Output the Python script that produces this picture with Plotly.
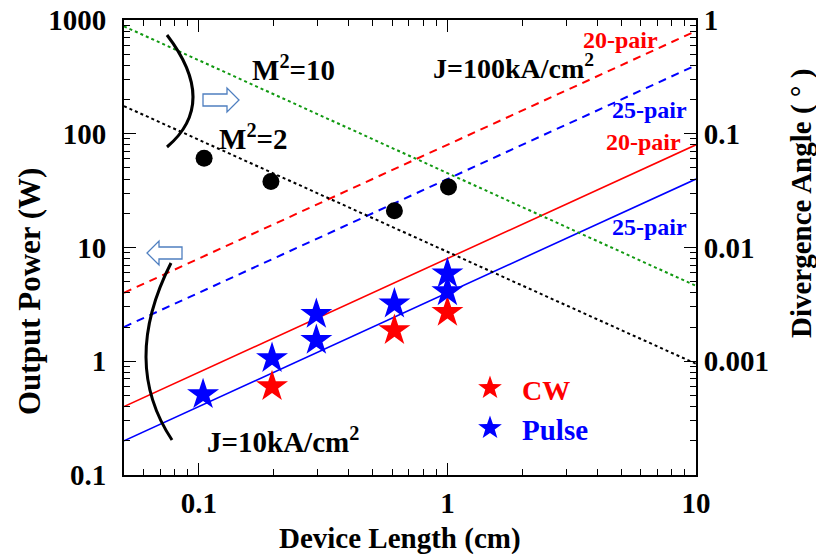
import math
import plotly.graph_objects as go

# ---------------- data ----------------
len_ends = [0.05, 10]                      # device length (cm) for model lines
pow_20pair_J10 = [0.4, 80]                 # red solid
pow_25pair_J10 = [0.2, 40]                 # blue solid
pow_20pair_J100 = [4.0, 800]               # red dashed
pow_25pair_J100 = [2.0, 400]               # blue dashed
div_M2_2 = [0.175, 0.00095]                # black dotted (right axis)
div_M2_10 = [0.88, 0.0046]                 # green dotted (right axis)

meas_div_len = [0.105, 0.195, 0.612, 1.01]
meas_div = [0.061, 0.038, 0.021, 0.034]

pulse_len = [0.104, 0.197, 0.297, 0.297, 0.612, 1.0, 1.0]
pulse_pow = [0.51, 1.06, 2.59, 1.53, 3.2, 5.9, 4.1]
cw_len = [0.197, 0.612, 1.0]
cw_pow = [0.60, 1.87, 2.7]

x_tick_vals = [0.1, 1, 10]
x_tick_text = ["0.1", "1", "10"]
y_tick_vals = [0.1, 1, 10, 100, 1000]
y_tick_text = ["0.1", "1", "10", "100", "1000"]
y2_tick_vals = [0.001, 0.01, 0.1, 1]
y2_tick_text = ["0.001", "0.01", "0.1", "1"]

# ---------------- style ----------------
FONT = "Liberation Serif"
RED = "#FF0000"
BLUE = "#0000FF"
GREEN = "#119911"
ARROW = "#4F7FC0"
W, H = 816, 554
L, R, T, B = 124, 696, 20, 475


def pp(xp, yp):
    return (xp - L) / (R - L), (B - yp) / (B - T)


def minor_vals(decades):
    return [m * 10.0 ** d for d in decades for m in range(2, 10)]


fig = go.Figure()

def line(x, y, color, dash, width, yaxis="y"):
    fig.add_trace(go.Scatter(x=x, y=y, mode="lines", yaxis=yaxis, showlegend=False,
                             line=dict(color=color, dash=dash, width=width), hoverinfo="skip"))

line(len_ends, div_M2_10, GREEN, "3px,3px", 2, "y2")
line(len_ends, div_M2_2, "black", "3px,3px", 2, "y2")
line(len_ends, pow_20pair_J100, RED, "8px,6px", 2)
line(len_ends, pow_25pair_J100, BLUE, "8px,6px", 2)
line(len_ends, pow_20pair_J10, RED, "solid", 1.6)
line(len_ends, pow_25pair_J10, BLUE, "solid", 1.6)

fig.add_trace(go.Scatter(x=meas_div_len, y=meas_div, yaxis="y2", mode="markers", showlegend=False,
                         marker=dict(symbol="circle", size=17, color="black")))
fig.add_trace(go.Scatter(x=cw_len, y=cw_pow, mode="markers", name="CW", showlegend=False,
                         marker=dict(symbol="star", size=24, color=RED, line=dict(width=0))))
fig.add_trace(go.Scatter(x=pulse_len, y=pulse_pow, mode="markers", name="Pulse", showlegend=False,
                         marker=dict(symbol="star", size=24, color=BLUE, line=dict(width=0))))

# ---------------- shapes ----------------
shapes = []

def path_from(points, close=True):
    s = ""
    for i, (a, b) in enumerate(points):
        x, y = pp(a, b)
        s += ("M " if i == 0 else " L ") + f"{x:.5f},{y:.5f}"
    return s + (" Z" if close else "")

def quad(p0, pm, p1):
    mx, my = (p0[0] + p1[0]) / 2, (p0[1] + p1[1]) / 2
    c = (2 * pm[0] - mx, 2 * pm[1] - my)
    a0, a1, a2 = pp(*p0), pp(*c), pp(*p1)
    return f"M {a0[0]:.5f},{a0[1]:.5f} Q {a1[0]:.5f},{a1[1]:.5f} {a2[0]:.5f},{a2[1]:.5f}"

# brackets
shapes.append(dict(type="path", xref="paper", yref="paper", path=quad((167, 35), (193, 97), (167, 147)),
                   line=dict(color="black", width=3)))
shapes.append(dict(type="path", xref="paper", yref="paper", path=quad((171, 263), (146, 357), (172, 440)),
                   line=dict(color="black", width=3)))
# hollow arrows
shapes.append(dict(type="path", xref="paper", yref="paper",
                   path=path_from([(203, 94), (227, 94), (227, 88), (239, 100), (227, 112), (227, 106), (203, 106)]),
                   line=dict(color=ARROW, width=1.3), fillcolor="white"))
shapes.append(dict(type="path", xref="paper", yref="paper",
                   path=path_from([(182, 247), (159, 247), (159, 241), (147, 253), (159, 265), (159, 259), (182, 259)]),
                   line=dict(color=ARROW, width=1.3), fillcolor="white"))

# legend stars
def star(cx, cy, ro=12.5, ri=5.0):
    pts = []
    for k in range(10):
        r = ro if k % 2 == 0 else ri
        ang = -math.pi / 2 + k * math.pi / 5
        pts.append((cx + r * math.cos(ang), cy + r * math.sin(ang)))
    return path_from(pts)

shapes.append(dict(type="path", xref="paper", yref="paper", path=star(490, 388),
                   line=dict(width=0), fillcolor=RED))
shapes.append(dict(type="path", xref="paper", yref="paper", path=star(490, 428),
                   line=dict(width=0), fillcolor=BLUE))

# ---------------- annotations ----------------
ann = []

def text(t, xp, yp, size, color="black", angle=0, xanchor="center"):
    x, y = pp(xp, yp)
    ann.append(dict(text=t, x=x, y=y, xref="paper", yref="paper", showarrow=False, textangle=angle,
                    xanchor=xanchor, yanchor="middle", borderpad=0,
                    font=dict(family=FONT, size=size, color=color, weight="bold")))

text("M<sup>2</sup>=10", 293, 68, 29)
text("J=100kA/cm<sup>2</sup>", 513, 67, 28)
text("M<sup>2</sup>=2", 253, 137, 29)
text("J=10kA/cm<sup>2</sup>", 283, 440, 29)
text("20-pair", 620, 40, 24, RED)
text("25-pair", 649, 110, 24, BLUE)
text("20-pair", 643, 142, 24, RED)
text("25-pair", 649, 227, 24, BLUE)
text("CW", 521, 390, 28, RED, xanchor="left")
text("Pulse", 521, 430, 29, BLUE, xanchor="left")
text("Output Power (W)", 29, 292, 31, angle=-90)
text("Divergence Angle ( ° )", 801, 204, 29, angle=-90)
text("Device Length (cm)", 400, 538, 29)

tickfont = dict(family=FONT, size=29, color="black", weight="bold")
common = dict(type="log", showline=True, linewidth=2, linecolor="black", showgrid=False, zeroline=False,
              automargin=False,
              ticks="inside", ticklen=12, tickwidth=1.3, tickcolor="black", tickfont=tickfont)
minor_style = dict(ticks="inside", ticklen=6, tickwidth=1, tickcolor="black", showgrid=False, tickmode="array")

fig.update_layout(
    width=W, height=H,
    margin=dict(l=L, r=W - R, t=T, b=H - B),
    paper_bgcolor="white", plot_bgcolor="white",
    showlegend=False,
    xaxis=dict(range=[math.log10(0.05), 1], tickvals=x_tick_vals, ticktext=x_tick_text,
               mirror="ticks", ticklabelstandoff=1,
               minor=dict(tickvals=[v for v in minor_vals([-2, -1, 0]) if v >= 0.05], **minor_style), **common),
    yaxis=dict(range=[-1, 3], tickvals=y_tick_vals, ticktext=y_tick_text, ticklabelstandoff=10,
               minor=dict(tickvals=minor_vals([-1, 0, 1, 2]), **minor_style), **common),
    yaxis2=dict(range=[-4, 0], tickvals=y2_tick_vals, ticktext=y2_tick_text, overlaying="y", side="right",
                ticklabelstandoff=0,
                minor=dict(tickvals=minor_vals([-4, -3, -2, -1]), **minor_style), **common),
    shapes=shapes,
    annotations=ann,
)

fig.write_html("out.html", config={"displayModeBar": False},
               post_script="document.body.style.margin='0';document.body.style.overflow='hidden';")
